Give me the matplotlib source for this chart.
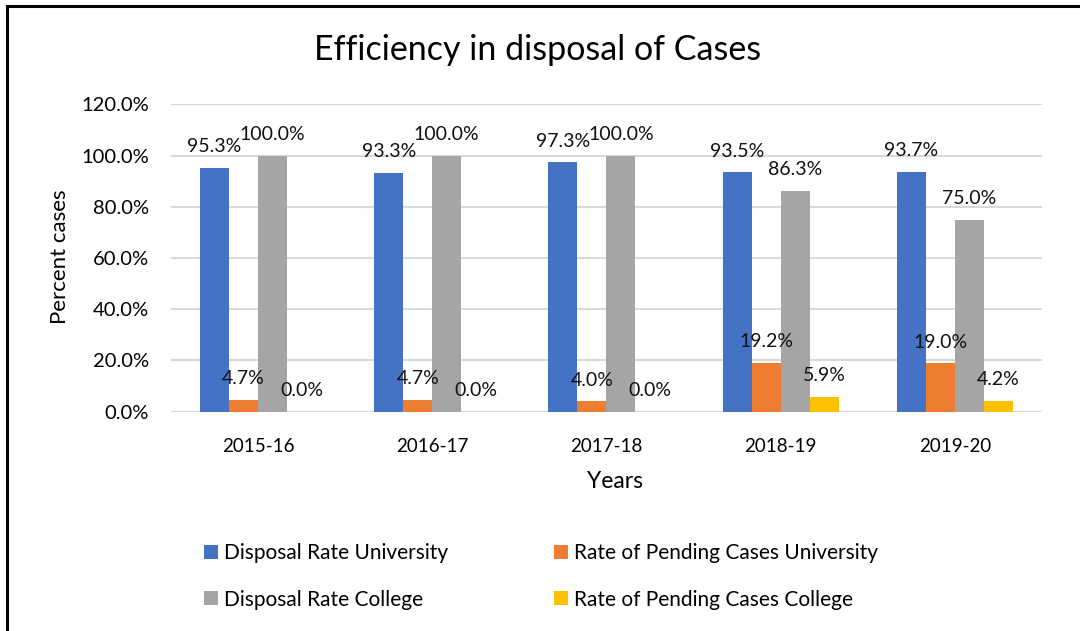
import matplotlib.pyplot as plt
import numpy as np
from matplotlib.patches import Rectangle

plt.rcParams['font.family'] = ['Lato', 'DejaVu Sans']

years = ['2015-16', '2016-17', '2017-18', '2018-19', '2019-20']
disposal_univ = [95.3, 93.3, 97.3, 93.5, 93.7]
pending_univ = [4.7, 4.7, 4.0, 19.2, 19.0]
disposal_coll = [100.0, 100.0, 100.0, 86.3, 75.0]
pending_coll = [0.0, 0.0, 0.0, 5.9, 4.2]

series = [
    ('Disposal Rate University', disposal_univ, '#4472C4'),
    ('Rate of Pending Cases University', pending_univ, '#ED7D31'),
    ('Disposal Rate College', disposal_coll, '#A5A5A5'),
    ('Rate of Pending Cases College', pending_coll, '#FFC000'),
]

fig = plt.figure(figsize=(10.8, 6.31), dpi=100)
ax = fig.add_axes([0.1583, 0.3475, 0.8065, 0.4872])

x = np.arange(len(years))
w = 0.1665
bars = []
for i, (name, vals, col) in enumerate(series):
    b = ax.bar(x + (i - 1.5) * w, vals, w, color=col, label=name, zorder=3)
    bars.append(b)
    for xi, v in zip(x + (i - 1.5) * w, vals):
        ax.annotate('%.1f%%' % v, (xi, v), xytext=(0, 9), textcoords='offset points',
                    ha='center', va='bottom', fontsize=14, color='#111111', zorder=4)

ax.set_xlim(-0.5, len(years) - 0.5)
ax.set_ylim(0, 120)
ax.set_yticks(np.arange(0, 121, 20))
ax.set_yticklabels(['%.1f%%' % t for t in np.arange(0, 121, 20)], fontsize=14.5)
ax.set_xticks(x)
ax.set_xticklabels(years, fontsize=13.5)
ax.tick_params(length=0, pad=16)
ax.tick_params(axis='x', pad=19)
ax.grid(axis='y', color='#d9d9d9', linewidth=1.5, zorder=0)
for s in ax.spines.values():
    s.set_visible(False)
ax.axhline(0, color='#d9d9d9', linewidth=1.5, zorder=2)

fig.text(0.498, 0.921, 'Efficiency in disposal of Cases', ha='center', va='center', fontsize=24.5)
fig.text(0.056, 1 - 257 / 631, 'Percent cases', rotation=90, ha='center', va='center', fontsize=16)
fig.text(0.569, 1 - 482 / 631, 'Years', ha='center', va='center', fontsize=16.5)

h = [bars[0], bars[2], bars[1], bars[3]]
lab = [series[0][0], series[2][0], series[1][0], series[3][0]]
fig.legend(h, lab, loc='upper left', bbox_to_anchor=(0.189, 0.1387), ncol=2, frameon=False,
           fontsize=15, borderpad=0, borderaxespad=0, handlelength=0.65, handleheight=0.65,
           handletextpad=0.3, labelspacing=1.25, columnspacing=5.1)

fig.patches.append(Rectangle((7 / 1080, -0.1), 1.2, 1 - 6 / 631 + 0.1, transform=fig.transFigure,
                             fill=False, edgecolor='black', linewidth=2.2))

fig.savefig('out.png', dpi=100)
